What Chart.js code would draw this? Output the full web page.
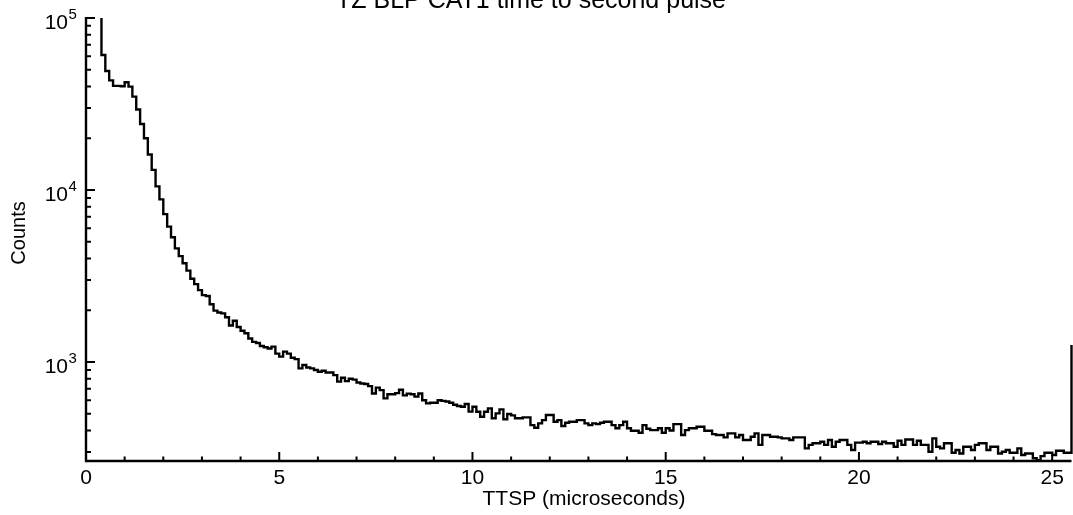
<!DOCTYPE html>
<html>
<head>
<meta charset="utf-8">
<script src="https://cdn.jsdelivr.net/npm/chart.js@4/dist/chart.umd.min.js"></script>
<style>
  html, body { margin: 0; padding: 0; background: #fff; overflow: hidden; }
  #wrap { position: absolute; left: 0; top: -20px; width: 1073px; height: 535px; }
</style>
</head>
<body>
<div id="wrap"><canvas id="ttsp" width="1073" height="535"></canvas></div>
<script>
const chartTitle = 'TZ BLP CAT1 time to second pulse';
const xTitle = 'TTSP (microseconds)';
const yTitle = 'Counts';

// histogram binning (microseconds)
const binStart = 0;
const binWidth = 0.1;

// counts per 0.1 us bin (first bins are off scale, last one is past 25.5)
const counts = [
  200000, 200000, 200000, 200000, 60900, 49200, 43400, 40300, 40300, 40100,
  42300, 39900, 34900, 29400, 24200, 20000, 16100, 13100, 10500, 8830,
  7240, 6130, 5310, 4580, 4130, 3750, 3400, 3050, 2840, 2620,
  2450, 2420, 2170, 1990, 1940, 1920, 1820, 1630, 1740, 1600,
  1520, 1470, 1370, 1310, 1290, 1240, 1220, 1200, 1230, 1120,
  1075, 1150, 1120, 1060, 1040, 919, 962, 930, 919, 900,
  878, 890, 870, 870, 840, 770, 810, 775, 800, 790,
  760, 751, 745, 725, 657, 710, 687, 615, 650, 650,
  660, 690, 640, 655, 650, 630, 657, 600, 575, 580,
  580, 600, 595, 590, 580, 565, 555, 550, 570, 515,
  550, 514, 481, 514, 538, 471, 503, 531, 465, 499,
  490, 471, 471, 477, 477, 430, 415, 440, 460, 492,
  492, 450, 460, 425, 444, 450, 450, 460, 460, 440,
  430, 440, 436, 444, 450, 450, 430, 412, 430, 450,
  412, 399, 399, 388, 430, 410, 402, 402, 412, 388,
  412, 400, 436, 436, 377, 402, 412, 412, 421, 421,
  399, 399, 381, 377, 377, 365, 385, 385, 365, 377,
  352, 352, 368, 385, 330, 377, 377, 368, 368, 365,
  360, 360, 352, 365, 365, 365, 315, 330, 337, 337,
  344, 330, 352, 322, 344, 352, 352, 330, 308, 340,
  340, 344, 337, 344, 344, 334, 344, 337, 337, 322,
  349, 330, 355, 355, 330, 349, 330, 330, 301, 360,
  322, 315, 337, 337, 297, 308, 294, 322, 322, 308,
  330, 337, 337, 308, 322, 322, 294, 301, 308, 297,
  297, 315, 288, 294, 294, 276, 269, 284, 297, 297,
  288, 305, 305, 297, 297, 1256
];

const xMin = 0, xMax = 25.5;
const yMin = 266, yMax = 1e5;
const xMajorTicks = [0, 5, 10, 15, 20, 25];
const xTickLabels = ['0', '5', '10', '15', '20', '25'];
const yDecades = [3, 4, 5];

// bin low edges as x, plus closing edge for the last bin
const points = counts.map((c, i) => ({ x: binStart + i * binWidth, y: c }));
points.push({ x: binStart + counts.length * binWidth, y: counts[counts.length - 1] });

const FONT = '"Liberation Sans", Arial, Helvetica, sans-serif';

const rootAxes = {
  id: 'rootAxes',
  afterDraw(chart) {
    const { ctx, chartArea: a } = chart;
    const xs = chart.scales.x, ys = chart.scales.y;
    ctx.save();
    ctx.strokeStyle = '#000';
    ctx.fillStyle = '#000';
    ctx.lineWidth = 2.4;
    ctx.lineCap = 'butt';

    // axis lines
    ctx.beginPath();
    ctx.moveTo(a.left, a.top - 1);
    ctx.lineTo(a.left, a.bottom);
    ctx.lineTo(a.right, a.bottom);
    ctx.stroke();

    // x ticks, pointing inward
    ctx.lineWidth = 2;
    ctx.beginPath();
    for (let v = Math.ceil(xMin); v <= xMax; v++) {
      const px = xs.getPixelForValue(v);
      const len = v % 5 === 0 ? 9 : 4.5;
      ctx.moveTo(px, a.bottom);
      ctx.lineTo(px, a.bottom - len);
    }
    // y ticks
    for (let k = 2; k <= 5; k++) {
      for (let m = 1; m <= 9; m++) {
        const v = m * Math.pow(10, k);
        if (v < yMin || v > yMax) continue;
        const py = ys.getPixelForValue(v);
        const len = m === 1 ? 9 : 5;
        ctx.moveTo(a.left, py);
        ctx.lineTo(a.left + len, py);
      }
    }
    ctx.stroke();

    // x tick labels
    ctx.font = '21px ' + FONT;
    ctx.textAlign = 'center';
    ctx.textBaseline = 'alphabetic';
    xMajorTicks.forEach((v, i) => {
      ctx.fillText(xTickLabels[i], xs.getPixelForValue(v), a.bottom + 23);
    });

    // y tick labels 10^n
    yDecades.forEach(n => {
      const py = ys.getPixelForValue(Math.pow(10, n));
      ctx.font = '21px ' + FONT;
      ctx.textAlign = 'right';
      ctx.fillText('10', a.left - 18, py + 11);
      ctx.font = '15px ' + FONT;
      ctx.textAlign = 'left';
      ctx.fillText(String(n), a.left - 17.5, py + 1);
    });

    // axis titles
    ctx.font = '21px ' + FONT;
    ctx.textAlign = 'center';
    ctx.fillText(xTitle, 584, a.bottom + 44);
    ctx.save();
    ctx.font = '20px ' + FONT;
    ctx.translate(25, 233 + 20);
    ctx.rotate(-Math.PI / 2);
    ctx.fillText(yTitle, 0, 0);
    ctx.restore();

    // main title (top is cut off by the window, as in the original)
    ctx.font = '25px ' + FONT;
    ctx.fillText(chartTitle, 531, 28);
    ctx.restore();
  }
};

new Chart(document.getElementById('ttsp'), {
  type: 'line',
  data: {
    datasets: [{
      data: points,
      stepped: 'before',
      borderColor: '#000',
      borderWidth: 2.4,
      pointRadius: 0,
      fill: false,
      clip: { left: 0, top: 0, right: 3, bottom: 0 }
    }]
  },
  options: {
    responsive: false,
    animation: false,
    devicePixelRatio: 1,
    layout: { padding: { left: 86, right: 1.5, top: 38, bottom: 54 } },
    scales: {
      x: { type: 'linear', min: xMin, max: xMax, display: false },
      y: { type: 'logarithmic', min: yMin, max: yMax, display: false }
    },
    plugins: {
      legend: { display: false },
      tooltip: { enabled: false },
      title: { display: false }
    }
  },
  plugins: [rootAxes]
});
</script>
</body>
</html>
